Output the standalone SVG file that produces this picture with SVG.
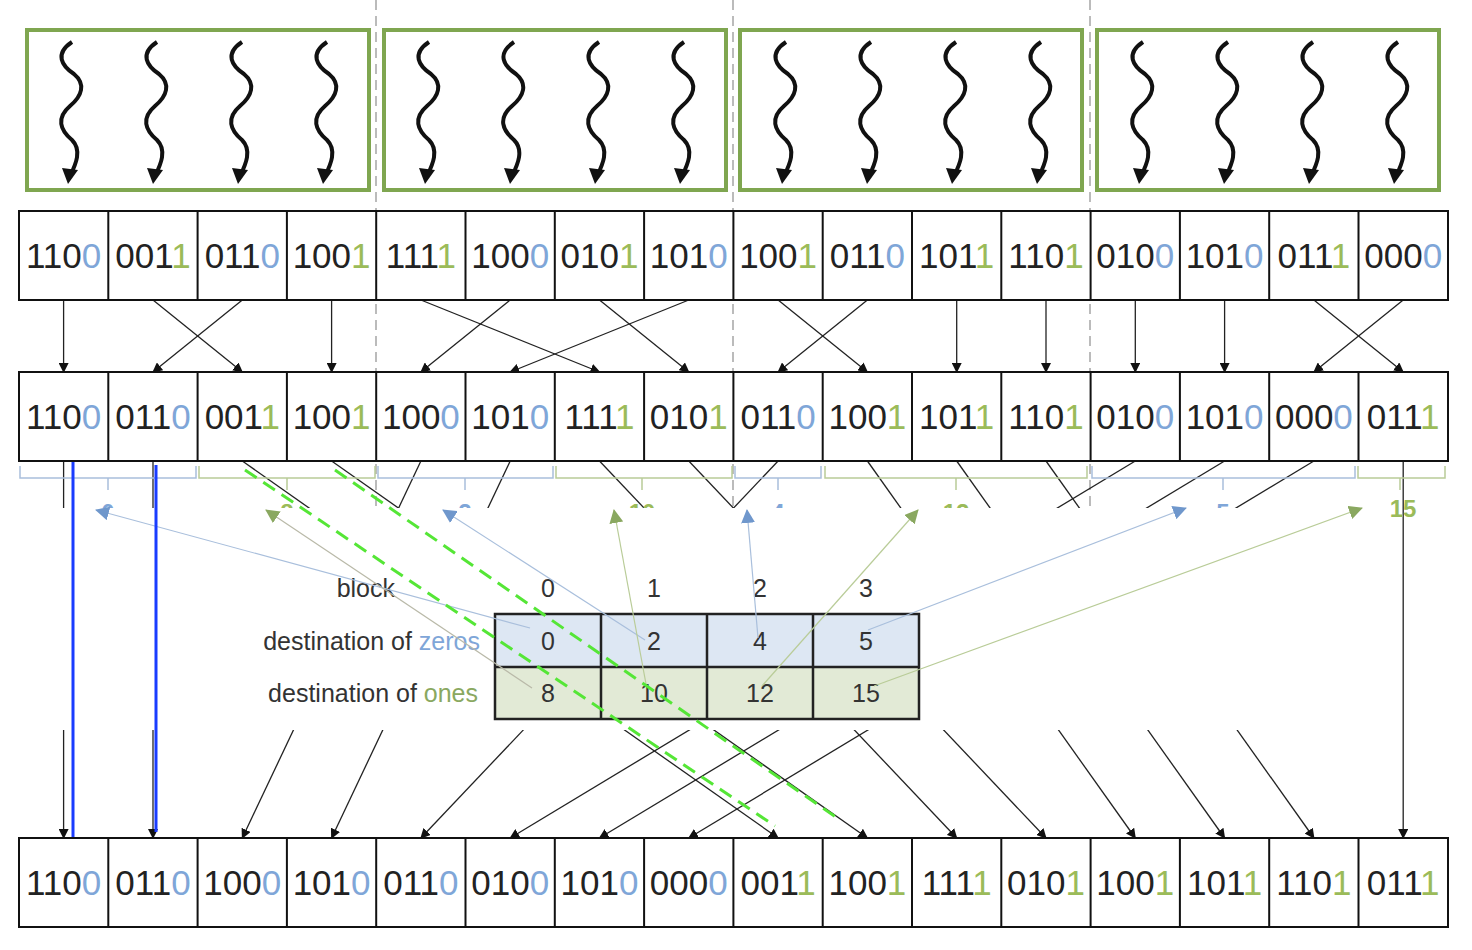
<svg xmlns="http://www.w3.org/2000/svg" xmlns:xlink="http://www.w3.org/1999/xlink" width="1472" height="950" viewBox="0 0 1472 950">
<style>
.cell{fill:#fff;stroke:#111;stroke-width:2}
.bits{font-family:"Liberation Sans",Arial,sans-serif;font-size:35px;fill:#222;text-anchor:middle}
.z{fill:#7fa6d8}.o{fill:#9bbb59}
.gbox{fill:none;stroke:#7fa650;stroke-width:4}
.sep{stroke:#bbb;stroke-width:2;stroke-dasharray:10 6}
.con line{stroke:#222;stroke-width:1.3;marker-end:url(#ah)}
.lbl{font-family:"Liberation Sans",Arial,sans-serif;font-size:25px;fill:#333}
.br{fill:none;stroke-width:1.5}
</style>
<defs>
<marker id="ah" markerWidth="10" markerHeight="10" refX="9" refY="5" orient="auto" markerUnits="userSpaceOnUse"><path d="M0,0 L10,5 L0,10 z" fill="#111"/></marker>
<marker id="ab" markerWidth="14" markerHeight="14" refX="13" refY="7" orient="auto" markerUnits="userSpaceOnUse"><path d="M0,0 L14,7 L0,14 z" fill="#6f97cc"/></marker>
<marker id="ag" markerWidth="14" markerHeight="14" refX="13" refY="7" orient="auto" markerUnits="userSpaceOnUse"><path d="M0,0 L14,7 L0,14 z" fill="#8aa860"/></marker>
<g id="sq"><path d="M0,0 c-18,12 -10,24 2,32 c12,10 8,22 -4,32 c-14,12 -10,24 2,34 c10,10 4,24 -2,36" fill="none" stroke="#111" stroke-width="4"/><path d="M-10,126 L6,128 L-4,142 z" fill="#111"/></g>
</defs>
<rect width="1472" height="950" fill="#fff"/>
<g id="separators">
<line class="sep" x1="376" y1="0" x2="376" y2="508"/><line class="sep" x1="733" y1="0" x2="733" y2="508"/><line class="sep" x1="1090" y1="0" x2="1090" y2="508"/>
</g>
<g id="threads">
<rect class="gbox" x="27" y="30" width="342" height="160"/><rect class="gbox" x="384" y="30" width="342" height="160"/><rect class="gbox" x="740" y="30" width="342" height="160"/><rect class="gbox" x="1097" y="30" width="342" height="160"/>
<use xlink:href="#sq" x="72" y="42"/><use xlink:href="#sq" x="157" y="42"/><use xlink:href="#sq" x="242" y="42"/><use xlink:href="#sq" x="327" y="42"/>
<use xlink:href="#sq" x="429" y="42"/><use xlink:href="#sq" x="514" y="42"/><use xlink:href="#sq" x="599" y="42"/><use xlink:href="#sq" x="684" y="42"/>
<use xlink:href="#sq" x="786" y="42"/><use xlink:href="#sq" x="871" y="42"/><use xlink:href="#sq" x="956" y="42"/><use xlink:href="#sq" x="1041" y="42"/>
<use xlink:href="#sq" x="1143" y="42"/><use xlink:href="#sq" x="1228" y="42"/><use xlink:href="#sq" x="1313" y="42"/><use xlink:href="#sq" x="1398" y="42"/>
</g>
<g id="connectors" class="con">
<line x1="63.6" y1="300" x2="63.6" y2="372"/><line x1="153" y1="300" x2="242.3" y2="372"/><line x1="242.3" y1="300" x2="153" y2="372"/><line x1="331.6" y1="300" x2="331.6" y2="372"/>
<line x1="420.9" y1="300" x2="599.5" y2="372"/><line x1="510.2" y1="300" x2="420.9" y2="372"/><line x1="599.5" y1="300" x2="688.8" y2="372"/><line x1="688.8" y1="300" x2="510.2" y2="372"/>
<line x1="778.1" y1="300" x2="867.4" y2="372"/><line x1="867.4" y1="300" x2="778.1" y2="372"/><line x1="956.7" y1="300" x2="956.7" y2="372"/><line x1="1046" y1="300" x2="1046" y2="372"/>
<line x1="1135.3" y1="300" x2="1135.3" y2="372"/><line x1="1224.6" y1="300" x2="1224.6" y2="372"/><line x1="1313.9" y1="300" x2="1403.2" y2="372"/><line x1="1403.2" y1="300" x2="1313.9" y2="372"/>
<line x1="63.6" y1="461" x2="63.6" y2="838"/><line x1="153" y1="461" x2="153" y2="838"/><line x1="242.3" y1="461" x2="778.1" y2="838"/><line x1="331.6" y1="461" x2="867.4" y2="838"/>
<line x1="420.9" y1="461" x2="242.3" y2="838"/><line x1="510.2" y1="461" x2="331.6" y2="838"/><line x1="599.5" y1="461" x2="956.7" y2="838"/><line x1="688.8" y1="461" x2="1046" y2="838"/>
<line x1="778.1" y1="461" x2="420.9" y2="838"/><line x1="867.4" y1="461" x2="1135.3" y2="838"/><line x1="956.7" y1="461" x2="1224.6" y2="838"/><line x1="1046" y1="461" x2="1313.9" y2="838"/>
<line x1="1135.3" y1="461" x2="510.2" y2="838"/><line x1="1224.6" y1="461" x2="599.5" y2="838"/><line x1="1313.9" y1="461" x2="688.8" y2="838"/><line x1="1403.2" y1="461" x2="1403.2" y2="838"/>
</g>
<g id="brackets">
<path class="br" stroke="#a9bfdc" d="M20,466 v12 h176 v-12 M108,478 v12"/>
<path class="br" stroke="#b9cc98" d="M199,466 v12 h176 v-12 M287,478 v12"/>
<path class="br" stroke="#a9bfdc" d="M378,466 v12 h175 v-12 M465,478 v12"/>
<path class="br" stroke="#b9cc98" d="M556,466 v12 h176 v-12 M642,478 v12"/>
<path class="br" stroke="#a9bfdc" d="M735,466 v12 h86 v-12 M778,478 v12"/>
<path class="br" stroke="#b9cc98" d="M825,466 v12 h262 v-12 M956,478 v12"/>
<path class="br" stroke="#a9bfdc" d="M1092,466 v12 h263 v-12 M1223,478 v12"/>
<path class="br" stroke="#b9cc98" d="M1358,466 v12 h87 v-12 M1400,478 v12"/>
<g font-family="Liberation Sans,Arial,sans-serif" font-size="24" font-weight="bold" text-anchor="middle">
<text x="108" y="521" fill="#7fa6d8">0</text><text x="287" y="521" fill="#9bbb59">8</text><text x="465" y="521" fill="#7fa6d8">2</text><text x="642" y="521" fill="#9bbb59">10</text>
<text x="778" y="521" fill="#7fa6d8">4</text><text x="956" y="521" fill="#9bbb59">12</text><text x="1223" y="521" fill="#7fa6d8">5</text><text x="1403" y="517" fill="#9bbb59">15</text>
</g>
</g>
<rect x="40" y="508" width="1345" height="222" fill="#fff"/>
<g id="table">
<rect x="495" y="614" width="424" height="53" fill="#dde7f3"/><rect x="495" y="667" width="424" height="52" fill="#e2ead6"/>
<path d="M495,614 H919 V719 H495 Z M495,667 H919 M601,614 V719 M707,614 V719 M813,614 V719" fill="none" stroke="#222" stroke-width="2.5"/>
<text class="lbl" x="395" y="597" text-anchor="end">block</text>
<text class="lbl" x="480" y="650" text-anchor="end">destination of <tspan fill="#7fa6d8">zeros</tspan></text>
<text class="lbl" x="478" y="702" text-anchor="end">destination of <tspan fill="#8aa860">ones</tspan></text>
<g class="lbl" text-anchor="middle">
<text x="548" y="597">0</text><text x="654" y="597">1</text><text x="760" y="597">2</text><text x="866" y="597">3</text>
<text x="548" y="650">0</text><text x="654" y="650">2</text><text x="760" y="650">4</text><text x="866" y="650">5</text>
<text x="548" y="702">8</text><text x="654" y="702">10</text><text x="760" y="702">12</text><text x="866" y="702">15</text>
</g>
</g>
<g id="pointers" fill="none" stroke-width="1.2">
<line x1="530" y1="628" x2="96" y2="510" stroke="#a9bfdc" marker-end="url(#ab)"/>
<line x1="532" y1="688" x2="266" y2="510" stroke="#b9b9a8" marker-end="url(#ag)"/>
<line x1="645" y1="640" x2="443" y2="510" stroke="#a9bfdc" marker-end="url(#ab)"/>
<line x1="646" y1="684" x2="614" y2="510" stroke="#b9cc98" marker-end="url(#ag)"/>
<line x1="758" y1="638" x2="747" y2="510" stroke="#a9bfdc" marker-end="url(#ab)"/>
<line x1="762" y1="686" x2="918" y2="510" stroke="#b9cc98" marker-end="url(#ag)"/>
<line x1="868" y1="630" x2="1186" y2="508" stroke="#a9bfdc" marker-end="url(#ab)"/>
<line x1="874" y1="686" x2="1362" y2="508" stroke="#b9cc98" marker-end="url(#ag)"/>
</g>
<g id="highlights">
<line x1="245" y1="470" x2="775" y2="826" stroke="#55e636" stroke-width="3" stroke-dasharray="14 8"/>
<line x1="335" y1="470" x2="840" y2="820" stroke="#55e636" stroke-width="3" stroke-dasharray="14 8"/>
<line x1="73" y1="461" x2="73" y2="838" stroke="#1a3cff" stroke-width="3"/>
<line x1="156" y1="465" x2="156" y2="832" stroke="#1a3cff" stroke-width="3"/>
</g>
<g id="row1">
<rect class="cell" x="19" y="211" width="1429" height="89"/>
<path d="M108.3,211V300M197.6,211V300M286.9,211V300M376.2,211V300M465.5,211V300M554.8,211V300M644.1,211V300M733.4,211V300M822.7,211V300M912,211V300M1001.3,211V300M1090.6,211V300M1179.9,211V300M1269.2,211V300M1358.5,211V300" stroke="#111" stroke-width="2"/>
<g class="bits">
<text x="63.6" y="268">110<tspan class="z">0</tspan></text><text x="153" y="268">001<tspan class="o">1</tspan></text><text x="242.3" y="268">011<tspan class="z">0</tspan></text><text x="331.6" y="268">100<tspan class="o">1</tspan></text>
<text x="420.9" y="268">111<tspan class="o">1</tspan></text><text x="510.2" y="268">100<tspan class="z">0</tspan></text><text x="599.5" y="268">010<tspan class="o">1</tspan></text><text x="688.8" y="268">101<tspan class="z">0</tspan></text>
<text x="778.1" y="268">100<tspan class="o">1</tspan></text><text x="867.4" y="268">011<tspan class="z">0</tspan></text><text x="956.7" y="268">101<tspan class="o">1</tspan></text><text x="1046" y="268">110<tspan class="o">1</tspan></text>
<text x="1135.3" y="268">010<tspan class="z">0</tspan></text><text x="1224.6" y="268">101<tspan class="z">0</tspan></text><text x="1313.9" y="268">011<tspan class="o">1</tspan></text><text x="1403.2" y="268">000<tspan class="z">0</tspan></text>
</g>
</g>
<g id="row2">
<rect class="cell" x="19" y="372" width="1429" height="89"/>
<path d="M108.3,372V461M197.6,372V461M286.9,372V461M376.2,372V461M465.5,372V461M554.8,372V461M644.1,372V461M733.4,372V461M822.7,372V461M912,372V461M1001.3,372V461M1090.6,372V461M1179.9,372V461M1269.2,372V461M1358.5,372V461" stroke="#111" stroke-width="2"/>
<g class="bits">
<text x="63.6" y="429">110<tspan class="z">0</tspan></text><text x="153" y="429">011<tspan class="z">0</tspan></text><text x="242.3" y="429">001<tspan class="o">1</tspan></text><text x="331.6" y="429">100<tspan class="o">1</tspan></text>
<text x="420.9" y="429">100<tspan class="z">0</tspan></text><text x="510.2" y="429">101<tspan class="z">0</tspan></text><text x="599.5" y="429">111<tspan class="o">1</tspan></text><text x="688.8" y="429">010<tspan class="o">1</tspan></text>
<text x="778.1" y="429">011<tspan class="z">0</tspan></text><text x="867.4" y="429">100<tspan class="o">1</tspan></text><text x="956.7" y="429">101<tspan class="o">1</tspan></text><text x="1046" y="429">110<tspan class="o">1</tspan></text>
<text x="1135.3" y="429">010<tspan class="z">0</tspan></text><text x="1224.6" y="429">101<tspan class="z">0</tspan></text><text x="1313.9" y="429">000<tspan class="z">0</tspan></text><text x="1403.2" y="429">011<tspan class="o">1</tspan></text>
</g>
</g>
<g id="row3">
<rect class="cell" x="19" y="838" width="1429" height="89"/>
<path d="M108.3,838V927M197.6,838V927M286.9,838V927M376.2,838V927M465.5,838V927M554.8,838V927M644.1,838V927M733.4,838V927M822.7,838V927M912,838V927M1001.3,838V927M1090.6,838V927M1179.9,838V927M1269.2,838V927M1358.5,838V927" stroke="#111" stroke-width="2"/>
<g class="bits">
<text x="63.6" y="895">110<tspan class="z">0</tspan></text><text x="153" y="895">011<tspan class="z">0</tspan></text><text x="242.3" y="895">100<tspan class="z">0</tspan></text><text x="331.6" y="895">101<tspan class="z">0</tspan></text>
<text x="420.9" y="895">011<tspan class="z">0</tspan></text><text x="510.2" y="895">010<tspan class="z">0</tspan></text><text x="599.5" y="895">101<tspan class="z">0</tspan></text><text x="688.8" y="895">000<tspan class="z">0</tspan></text>
<text x="778.1" y="895">001<tspan class="o">1</tspan></text><text x="867.4" y="895">100<tspan class="o">1</tspan></text><text x="956.7" y="895">111<tspan class="o">1</tspan></text><text x="1046" y="895">010<tspan class="o">1</tspan></text>
<text x="1135.3" y="895">100<tspan class="o">1</tspan></text><text x="1224.6" y="895">101<tspan class="o">1</tspan></text><text x="1313.9" y="895">110<tspan class="o">1</tspan></text><text x="1403.2" y="895">011<tspan class="o">1</tspan></text>
</g>
</g>
</svg>
